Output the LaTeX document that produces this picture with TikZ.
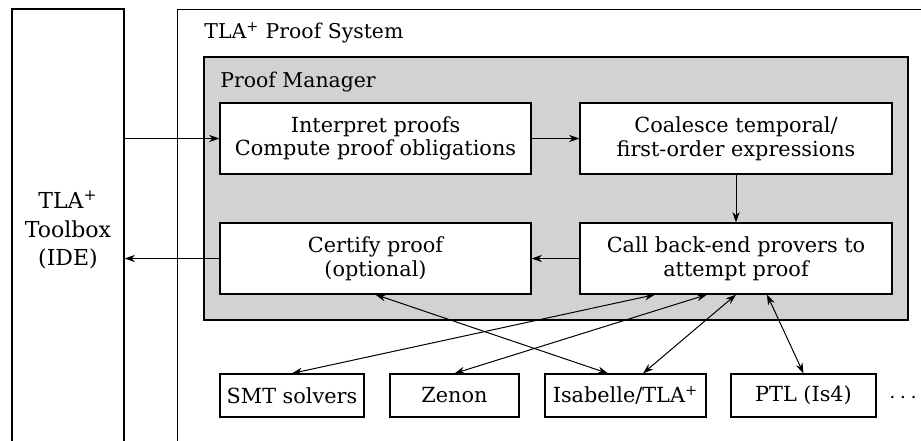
\documentclass[tikz,border=0pt]{standalone}
\usepackage{fontspec}
\setmainfont{DejaVu Serif}
\usetikzlibrary{arrows.meta, calc}
\definecolor{pmgray}{RGB}{209,210,212}

\begin{document}
\begin{tikzpicture}[x=0.5pt, y=-0.5pt,
    frame/.style={draw, line width=0.6pt, inner sep=0pt},
    box/.style={frame, fill=white, align=center, minimum height=35.5pt,
      font=\fontsize{10.4}{11.8}\selectfont},
    prover/.style={frame, fill=white, minimum height=21.5pt,
      font=\fontsize{10.4}{11.8}\selectfont},
    title/.style={anchor=west, inner sep=0pt, font=\fontsize{10.2}{11.8}\selectfont},
    conn/.style={-{Stealth[length=5.2pt, width=3.6pt]}, line width=0.5pt},
    both/.style={{Stealth[length=5.2pt, width=3.6pt]}-{Stealth[length=5.2pt, width=3.6pt]}, line width=0.5pt}]
        \clip (0,0) rectangle (921,440);

        \node[frame, minimum width=56pt, minimum height=221pt, align=center,
          font=\fontsize{11}{14.2}\selectfont] (toolbox) at (68,230)
          {TLA\textsuperscript{+}\\Toolbox\\(IDE)};

        \node[frame, anchor=north west, minimum width=391.5pt, minimum height=230.5pt] (tlaps) at (177,9) {};
        \node[title] (tlapslabel) at (204,33) {TLA\textsuperscript{+} Proof System};

        \node[frame, fill=pmgray, minimum width=352pt, minimum height=131.5pt] (pm) at (556,188.5) {};
        \node[title] (pmlabel) at (220,82) {Proof Manager};

        \node[box, minimum width=155.5pt] (interp) at (375.5,138.5) {Interpret proofs\\Compute proof obligations};
        \node[box, minimum width=156pt] (coalesce) at (736,138.5) {Coalesce temporal/\\first-order expressions};
        \node[box, minimum width=155.5pt] (certify) at (375.5,258.5) {Certify proof\\(optional)};
        \node[box, minimum width=156pt] (call) at (736,258.5) {Call back-end provers to\\attempt proof};

        \node[prover, minimum width=72pt] (smt) at (292,395.5) {SMT solvers};
        \node[prover, minimum width=64.5pt] (zenon) at (454.5,395.5) {Zenon};
        \node[prover, minimum width=80.5pt] (isabelle) at (625.5,395.5) {Isabelle/TLA\textsuperscript{+}};
        \node[prover, minimum width=72.5pt] (ptl) at (803.5,395.5) {PTL (Is4)};
        \node[font=\fontsize{12}{12}\selectfont] (more) at (903,398) {$\cdots$};

        \draw[conn] (interp.west -| toolbox.east) -- (interp.west);
        \draw[conn] (interp) -- (coalesce);
        \draw[conn] (coalesce) -- (call);
        \draw[conn] (call) -- (certify);
        \draw[conn] (certify.west) -- (certify.west -| toolbox.east);

        \draw[both] (smt.north) -- ([xshift=-40.5pt]call.south);
        \draw[both] (zenon.north) -- ([xshift=-14.5pt]call.south);
        \draw[both] ([xshift=8.75pt]isabelle.north) -- (call.south);
        \draw[both] (ptl.north) -- ([xshift=15.5pt]call.south);
        \draw[both] (certify.south) -- ([xshift=-8.75pt]isabelle.north);
      \end{tikzpicture}
\end{document}
